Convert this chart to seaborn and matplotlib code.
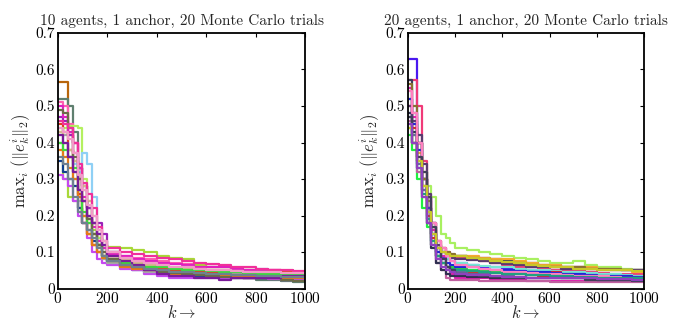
import matplotlib
matplotlib.use("Agg")
import matplotlib.pyplot as plt
import numpy as np
import pandas as pd
import seaborn as sns

K = [0, 20, 40, 60, 80, 100, 120, 140, 160, 180, 200, 250, 300, 350, 400,
     450, 500, 550, 600, 650, 700, 750, 800, 850, 900, 950, 1000]

# 10 agents, 1 anchor
trials_10 = [
    [0.565, 0.565, 0.42, 0.35, 0.30, 0.24, 0.19, 0.15, 0.12, 0.10, 0.08, 0.065, 0.055, 0.05, 0.045, 0.04, 0.04, 0.038, 0.035, 0.035, 0.033, 0.03, 0.03, 0.028, 0.025, 0.025, 0.022],
    [0.52, 0.52, 0.50, 0.43, 0.33, 0.28, 0.22, 0.18, 0.14, 0.11, 0.09, 0.075, 0.065, 0.055, 0.05, 0.045, 0.042, 0.04, 0.035, 0.032, 0.03, 0.03, 0.025, 0.025, 0.022, 0.018, 0.02],
    [0.51, 0.50, 0.45, 0.40, 0.33, 0.27, 0.22, 0.18, 0.15, 0.12, 0.10, 0.09, 0.085, 0.08, 0.075, 0.07, 0.068, 0.065, 0.06, 0.058, 0.055, 0.052, 0.05, 0.05, 0.048, 0.046, 0.045],
    [0.47, 0.46, 0.42, 0.37, 0.33, 0.28, 0.22, 0.18, 0.18, 0.15, 0.10, 0.08, 0.07, 0.05, 0.045, 0.04, 0.04, 0.035, 0.035, 0.03, 0.032, 0.03, 0.035, 0.035, 0.035, 0.04, 0.04],
    [0.40, 0.30, 0.25, 0.24, 0.22, 0.20, 0.18, 0.16, 0.14, 0.13, 0.115, 0.11, 0.105, 0.10, 0.09, 0.085, 0.08, 0.065, 0.06, 0.058, 0.055, 0.05, 0.05, 0.048, 0.045, 0.045, 0.045],
    [0.43, 0.44, 0.445, 0.445, 0.44, 0.30, 0.24, 0.18, 0.14, 0.11, 0.09, 0.075, 0.07, 0.065, 0.06, 0.055, 0.055, 0.05, 0.05, 0.048, 0.045, 0.045, 0.042, 0.04, 0.04, 0.04, 0.038],
    [0.42, 0.40, 0.36, 0.34, 0.32, 0.37, 0.34, 0.25, 0.15, 0.12, 0.10, 0.08, 0.07, 0.06, 0.055, 0.05, 0.05, 0.048, 0.045, 0.045, 0.04, 0.042, 0.055, 0.045, 0.04, 0.04, 0.04],
    [0.35, 0.32, 0.30, 0.28, 0.22, 0.18, 0.16, 0.13, 0.12, 0.09, 0.07, 0.06, 0.05, 0.045, 0.04, 0.04, 0.038, 0.035, 0.035, 0.035, 0.032, 0.03, 0.03, 0.03, 0.03, 0.032, 0.03],
    [0.31, 0.30, 0.28, 0.24, 0.20, 0.18, 0.14, 0.10, 0.08, 0.07, 0.065, 0.055, 0.05, 0.04, 0.035, 0.03, 0.03, 0.03, 0.03, 0.028, 0.028, 0.028, 0.028, 0.027, 0.025, 0.025, 0.025],
    [0.44, 0.42, 0.36, 0.30, 0.24, 0.20, 0.15, 0.12, 0.10, 0.08, 0.07, 0.06, 0.055, 0.045, 0.045, 0.04, 0.04, 0.04, 0.035, 0.035, 0.04, 0.035, 0.04, 0.04, 0.035, 0.035, 0.035],
    [0.50, 0.47, 0.43, 0.40, 0.33, 0.25, 0.20, 0.17, 0.13, 0.11, 0.095, 0.09, 0.08, 0.075, 0.07, 0.068, 0.065, 0.06, 0.06, 0.058, 0.055, 0.052, 0.05, 0.05, 0.048, 0.045, 0.045],
    [0.45, 0.43, 0.38, 0.32, 0.26, 0.18, 0.15, 0.12, 0.10, 0.09, 0.08, 0.07, 0.065, 0.06, 0.055, 0.05, 0.05, 0.048, 0.045, 0.045, 0.045, 0.042, 0.042, 0.04, 0.045, 0.045, 0.048],
    [0.38, 0.36, 0.33, 0.30, 0.25, 0.20, 0.15, 0.12, 0.10, 0.085, 0.075, 0.06, 0.055, 0.05, 0.045, 0.04, 0.04, 0.04, 0.038, 0.035, 0.035, 0.035, 0.035, 0.03, 0.03, 0.03, 0.03],
    [0.43, 0.40, 0.38, 0.35, 0.30, 0.28, 0.24, 0.20, 0.16, 0.12, 0.10, 0.08, 0.07, 0.065, 0.06, 0.058, 0.055, 0.055, 0.05, 0.05, 0.048, 0.045, 0.045, 0.045, 0.042, 0.042, 0.04],
    [0.40, 0.38, 0.36, 0.33, 0.27, 0.21, 0.18, 0.15, 0.12, 0.09, 0.075, 0.07, 0.065, 0.06, 0.06, 0.055, 0.05, 0.05, 0.048, 0.045, 0.045, 0.042, 0.04, 0.04, 0.04, 0.038, 0.035],
    [0.49, 0.48, 0.44, 0.36, 0.30, 0.24, 0.19, 0.15, 0.12, 0.10, 0.08, 0.065, 0.06, 0.05, 0.045, 0.042, 0.04, 0.038, 0.035, 0.032, 0.03, 0.03, 0.028, 0.028, 0.025, 0.02, 0.025],
    [0.46, 0.45, 0.44, 0.40, 0.34, 0.29, 0.26, 0.22, 0.17, 0.13, 0.11, 0.10, 0.095, 0.09, 0.085, 0.08, 0.075, 0.07, 0.068, 0.065, 0.06, 0.058, 0.055, 0.05, 0.05, 0.048, 0.045],
    [0.42, 0.40, 0.36, 0.32, 0.27, 0.24, 0.20, 0.18, 0.15, 0.12, 0.09, 0.075, 0.065, 0.05, 0.04, 0.035, 0.035, 0.03, 0.03, 0.025, 0.03, 0.03, 0.03, 0.03, 0.035, 0.035, 0.035],
    [0.44, 0.43, 0.41, 0.37, 0.31, 0.27, 0.23, 0.20, 0.16, 0.13, 0.10, 0.085, 0.075, 0.07, 0.065, 0.06, 0.058, 0.055, 0.052, 0.05, 0.048, 0.046, 0.045, 0.045, 0.043, 0.042, 0.04],
    [0.36, 0.34, 0.30, 0.25, 0.21, 0.18, 0.16, 0.14, 0.11, 0.09, 0.075, 0.065, 0.06, 0.055, 0.05, 0.045, 0.045, 0.042, 0.04, 0.04, 0.038, 0.036, 0.035, 0.035, 0.033, 0.032, 0.03],
]

# 20 agents, 1 anchor
trials_20 = [
    [0.63, 0.63, 0.40, 0.30, 0.25, 0.15, 0.10, 0.085, 0.08, 0.075, 0.07, 0.065, 0.06, 0.058, 0.055, 0.05, 0.05, 0.045, 0.04, 0.04, 0.038, 0.035, 0.035, 0.033, 0.03, 0.03, 0.03],
    [0.57, 0.57, 0.50, 0.35, 0.25, 0.18, 0.13, 0.11, 0.10, 0.09, 0.085, 0.08, 0.075, 0.07, 0.065, 0.06, 0.06, 0.055, 0.05, 0.05, 0.048, 0.045, 0.042, 0.04, 0.04, 0.04, 0.04],
    [0.57, 0.48, 0.40, 0.30, 0.22, 0.17, 0.11, 0.10, 0.095, 0.09, 0.09, 0.085, 0.085, 0.08, 0.075, 0.07, 0.07, 0.065, 0.065, 0.06, 0.06, 0.058, 0.055, 0.055, 0.05, 0.05, 0.045],
    [0.52, 0.45, 0.40, 0.32, 0.28, 0.25, 0.20, 0.15, 0.14, 0.125, 0.11, 0.105, 0.10, 0.095, 0.09, 0.085, 0.08, 0.075, 0.07, 0.07, 0.075, 0.065, 0.06, 0.058, 0.055, 0.05, 0.045],
    [0.45, 0.42, 0.37, 0.30, 0.22, 0.16, 0.12, 0.10, 0.095, 0.09, 0.09, 0.088, 0.085, 0.08, 0.08, 0.075, 0.07, 0.065, 0.065, 0.06, 0.06, 0.06, 0.055, 0.05, 0.05, 0.045, 0.045],
    [0.48, 0.42, 0.34, 0.28, 0.22, 0.15, 0.11, 0.09, 0.08, 0.075, 0.07, 0.065, 0.062, 0.06, 0.058, 0.055, 0.05, 0.05, 0.048, 0.045, 0.045, 0.042, 0.04, 0.04, 0.038, 0.035, 0.035],
    [0.42, 0.38, 0.30, 0.22, 0.17, 0.12, 0.09, 0.07, 0.06, 0.058, 0.055, 0.052, 0.05, 0.048, 0.045, 0.045, 0.042, 0.04, 0.04, 0.04, 0.035, 0.035, 0.035, 0.032, 0.03, 0.03, 0.03],
    [0.50, 0.44, 0.36, 0.28, 0.20, 0.14, 0.09, 0.07, 0.06, 0.055, 0.05, 0.045, 0.045, 0.042, 0.04, 0.04, 0.038, 0.035, 0.045, 0.035, 0.035, 0.032, 0.03, 0.03, 0.03, 0.028, 0.028],
    [0.55, 0.47, 0.40, 0.30, 0.22, 0.16, 0.11, 0.09, 0.06, 0.04, 0.03, 0.03, 0.028, 0.025, 0.025, 0.025, 0.022, 0.022, 0.02, 0.02, 0.02, 0.02, 0.02, 0.02, 0.02, 0.02, 0.02],
    [0.46, 0.40, 0.32, 0.25, 0.18, 0.12, 0.07, 0.05, 0.03, 0.025, 0.025, 0.025, 0.022, 0.022, 0.02, 0.02, 0.02, 0.02, 0.018, 0.018, 0.018, 0.018, 0.018, 0.018, 0.018, 0.018, 0.018],
    [0.48, 0.43, 0.35, 0.27, 0.18, 0.11, 0.07, 0.05, 0.04, 0.035, 0.035, 0.033, 0.032, 0.03, 0.03, 0.03, 0.045, 0.04, 0.035, 0.03, 0.028, 0.028, 0.025, 0.025, 0.025, 0.025, 0.025],
    [0.52, 0.45, 0.38, 0.30, 0.22, 0.15, 0.10, 0.08, 0.07, 0.065, 0.06, 0.058, 0.055, 0.05, 0.05, 0.048, 0.045, 0.045, 0.042, 0.04, 0.04, 0.038, 0.035, 0.035, 0.035, 0.032, 0.03],
    [0.56, 0.50, 0.40, 0.30, 0.24, 0.18, 0.13, 0.11, 0.10, 0.095, 0.09, 0.085, 0.08, 0.075, 0.072, 0.07, 0.065, 0.062, 0.06, 0.06, 0.058, 0.055, 0.055, 0.055, 0.05, 0.05, 0.045],
    [0.50, 0.46, 0.42, 0.34, 0.26, 0.18, 0.12, 0.10, 0.09, 0.085, 0.08, 0.078, 0.075, 0.07, 0.068, 0.065, 0.06, 0.06, 0.058, 0.055, 0.055, 0.055, 0.05, 0.05, 0.05, 0.05, 0.045],
    [0.47, 0.42, 0.34, 0.27, 0.19, 0.13, 0.09, 0.07, 0.06, 0.05, 0.045, 0.04, 0.04, 0.035, 0.035, 0.032, 0.03, 0.03, 0.03, 0.03, 0.028, 0.028, 0.025, 0.025, 0.025, 0.025, 0.025],
    [0.54, 0.48, 0.40, 0.32, 0.25, 0.18, 0.13, 0.11, 0.09, 0.075, 0.065, 0.06, 0.055, 0.05, 0.045, 0.045, 0.042, 0.04, 0.04, 0.038, 0.035, 0.035, 0.035, 0.033, 0.03, 0.03, 0.03],
    [0.44, 0.40, 0.33, 0.26, 0.19, 0.13, 0.09, 0.07, 0.06, 0.055, 0.05, 0.048, 0.045, 0.043, 0.04, 0.04, 0.038, 0.036, 0.035, 0.035, 0.033, 0.032, 0.03, 0.03, 0.03, 0.03, 0.028],
    [0.47, 0.40, 0.36, 0.32, 0.25, 0.17, 0.11, 0.08, 0.06, 0.05, 0.04, 0.038, 0.035, 0.033, 0.03, 0.03, 0.03, 0.03, 0.028, 0.028, 0.028, 0.025, 0.025, 0.025, 0.025, 0.022, 0.022],
    [0.44, 0.40, 0.35, 0.28, 0.21, 0.15, 0.11, 0.10, 0.095, 0.09, 0.088, 0.085, 0.08, 0.075, 0.072, 0.07, 0.065, 0.062, 0.06, 0.058, 0.055, 0.055, 0.052, 0.05, 0.05, 0.048, 0.045],
    [0.45, 0.40, 0.33, 0.25, 0.18, 0.12, 0.08, 0.06, 0.05, 0.045, 0.04, 0.038, 0.036, 0.035, 0.033, 0.032, 0.03, 0.03, 0.03, 0.028, 0.028, 0.028, 0.027, 0.027, 0.026, 0.025, 0.025],
]

colors_10 = ["#b8650a", "#5f7f6f", "#ff5fb0", "#9a22b8", "#a8d838", "#b4f060",
             "#8fd0f5", "#103f8f", "#c548f0", "#a8a8a8", "#e020c0", "#e03a20",
             "#e57a18", "#d6b48e", "#3ed83e", "#6b6b48", "#f0309a", "#7a1a9a",
             "#f29ac8", "#6f8090"]
colors_20 = ["#4a18f0", "#f03a78", "#3c3c5c", "#a8f060", "#f4aa30", "#78e6d4",
             "#20f040", "#e42424", "#e020b0", "#c060a0", "#303050", "#2424d8",
             "#8a7030", "#5a3a70", "#6a6a9a", "#ff80c0", "#20a080", "#404058",
             "#c8c828", "#9040c0"]

titles = ["10 agents, 1 anchor, 20 Monte Carlo trials",
          "20 agents, 1 anchor, 20 Monte Carlo trials"]
yticks = [0, 0.1, 0.2, 0.3, 0.4, 0.5, 0.6, 0.7]
ytick_labels = ["0", "0.1", "0.2", "0.3", "0.4", "0.5", "0.6", "0.7"]
xticks = [0, 200, 400, 600, 800, 1000]


def to_frame(trials):
    rows = []
    for t, vals in enumerate(trials):
        for k, v in zip(K, vals):
            rows.append({"k": k, "err": v, "trial": t})
    return pd.DataFrame(rows)


def main():
    sns.set_style("white")
    plt.rcParams["font.family"] = ["cmr10"]
    plt.rcParams["mathtext.fontset"] = "cm"
    plt.rcParams["axes.formatter.use_mathtext"] = True

    fig = plt.figure(figsize=(6.84, 3.2), dpi=100)
    ax1 = fig.add_axes([0.0844, 0.098, 0.362, 0.799])
    ax2 = fig.add_axes([0.596, 0.098, 0.346, 0.799])

    for ax, trials, cols, title in zip([ax1, ax2], [trials_10, trials_20],
                                       [colors_10, colors_20], titles):
        df = to_frame(trials)
        sns.lineplot(data=df, x="k", y="err", hue="trial", palette=cols,
                     estimator=None, errorbar=None, legend=False,
                     drawstyle="steps-post", linewidth=1.6, ax=ax)
        ax.set_xlim(0, 1000)
        ax.set_ylim(0, 0.7)
        ax.set_xticks(xticks)
        ax.set_yticks(yticks)
        ax.set_yticklabels(ytick_labels)
        ax.tick_params(direction="in", top=True, right=True, length=3,
                       width=0.8, labelsize=11, pad=2, colors="black")
        for s in ax.spines.values():
            s.set_linewidth(1.3)
            s.set_color("black")
        ax.set_title(title, fontsize=11, pad=6)
        ax.set_xlabel(r"$k\rightarrow$", fontsize=12, labelpad=-2)
        ax.set_ylabel(r"$\mathrm{max}_i\ (\|e_k^i\|_2)$", fontsize=12, labelpad=2)

    fig.savefig("out.png", dpi=100)


if __name__ == "__main__":
    main()
